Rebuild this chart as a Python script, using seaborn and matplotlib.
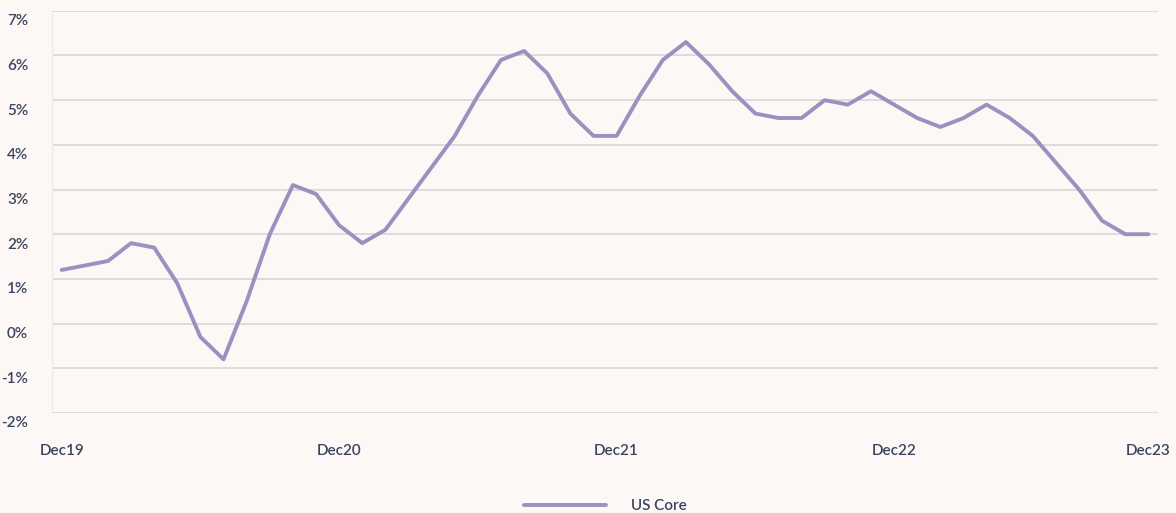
import numpy as np
import pandas as pd
import seaborn as sns
import matplotlib.pyplot as plt
import matplotlib.transforms as mtransforms

# monthly core inflation, Dec19 .. Nov23
us_core = [1.2, 1.3, 1.4, 1.8, 1.7, 0.9, -0.3, -0.8, 0.5, 2.0, 3.1, 2.9,
           2.2, 1.8, 2.1, 2.8, 3.5, 4.2, 5.1, 5.9, 6.1, 5.6, 4.7, 4.2,
           4.2, 5.1, 5.9, 6.3, 5.8, 5.2, 4.7, 4.6, 4.6, 5.0, 4.9, 5.2,
           4.9, 4.6, 4.4, 4.6, 4.9, 4.6, 4.2, 3.6, 3.0, 2.3, 2.0, 2.0]
tick_pos = [0, 12, 24, 36, 47]
tick_labels = ['Dec19', 'Dec20', 'Dec21', 'Dec22', 'Dec23']
y_ticks = [-2, -1, 0, 1, 2, 3, 4, 5, 6, 7]

df = pd.DataFrame({'month': np.arange(len(us_core)), 'value': us_core,
                   'series': 'US Core'})

bg = '#fdf8f5'
text_col = '#3b4560'
line_col = '#9c90c0'

sns.set_theme(style='white')
plt.rcParams['font.family'] = ['Lato', 'DejaVu Sans']

fig = plt.figure(figsize=(11.76, 5.13), dpi=100, facecolor=bg)
ax = fig.add_axes([0.044, 0.195, 0.941, 0.784])
ax.set_facecolor(bg)

sns.lineplot(data=df, x='month', y='value', hue='series',
             palette=[line_col], linewidth=2.8, ax=ax)

ax.set_xlim(-0.43, 47.43)
ax.set_ylim(-2, 7)
ax.set_yticks(y_ticks)
ax.set_yticklabels([f'{v}%' for v in y_ticks])
ax.set_xticks(tick_pos)
ax.set_xticklabels(tick_labels)
ax.set_xlabel('')
ax.set_ylabel('')

ax.grid(axis='y', color='#dadada', linewidth=1.3)
ax.set_axisbelow(True)
for s in ['top', 'right', 'bottom']:
    ax.spines[s].set_visible(False)
ax.spines['left'].set_color('#ececec')
ax.spines['left'].set_linewidth(1)

ax.tick_params(axis='both', length=0, colors=text_col, labelsize=11)
ax.tick_params(axis='y', pad=17)
ax.tick_params(axis='x', pad=22)
for lab in ax.get_xticklabels() + ax.get_yticklabels():
    lab.set_fontweight('semibold')
# y labels sit a bit below their gridlines
offset = mtransforms.ScaledTranslation(0, -9 / 100, fig.dpi_scale_trans)
for lab in ax.get_yticklabels():
    lab.set_transform(lab.get_transform() + offset)

ax.legend(loc='upper center', bbox_to_anchor=(0.5, -0.18), frameon=False,
          handlelength=5.4, handletextpad=1.6,
          labelcolor=text_col, prop={'weight': 'semibold', 'size': 11})

fig.savefig('out.png', dpi=100, facecolor=bg)
